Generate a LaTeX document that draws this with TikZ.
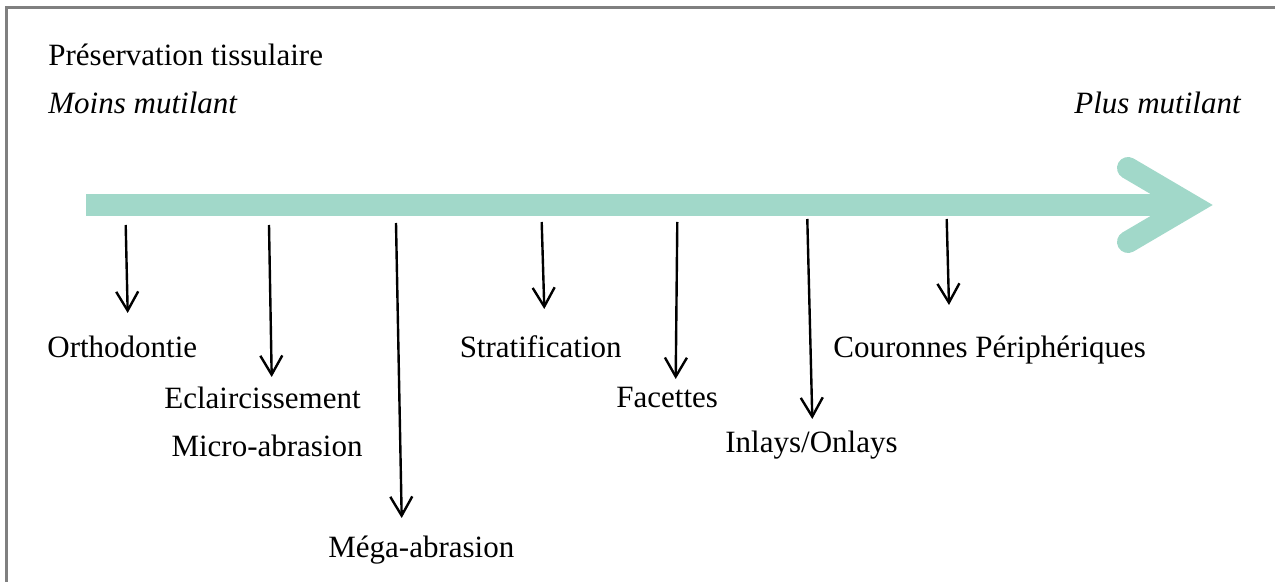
\documentclass[tikz,border=0pt]{standalone}
\usepackage{fontspec}
\setmainfont{Liberation Serif}
\usetikzlibrary{arrows.meta}
\definecolor{teal1}{RGB}{161,216,201}
\definecolor{frame}{RGB}{128,128,128}
\tikzstyle{txt} = [inner sep=0, font=\fontsize{15.5}{18}\selectfont]
\tikzstyle{itxt} = [txt, font=\fontsize{15.5}{18}\selectfont\itshape]
\tikzstyle{line} = [draw, line width=1.2pt, -{Straight Barb[length=9.5pt,width=11pt]}]
\tikzstyle{axis} = [draw=teal1, line width=11pt]

\begin{document}
\begin{tikzpicture}[x=0.5pt,y=-0.5pt]
\useasboundingbox (0,0) rectangle (1275,582);
\draw [frame, line width=1.5pt] (6,582) -- (6,8) -- (1275,8);

% titles
\node [txt, anchor=base west] (pres) at (48,66) {Préservation tissulaire};
\node [itxt, anchor=base west] (moins) at (48,114) {Moins mutilant};
\node [itxt, anchor=base east] (plus) at (1241,114) {Plus mutilant};

% main arrow
\coordinate (tail) at (86,205);
\coordinate (head) at (1191,205);
\path [axis, line cap=butt] (tail) -- (head);
\path [axis, line cap=round, line join=miter] (1128,168) -- (head) -- (1128,242);

% treatments
\node [txt, anchor=base west] (ortho) at (47,358) {Orthodontie};
\node [txt, anchor=base east] (eclair) at (361,409) {Eclaircissement};
\node [txt, anchor=base east] (micro) at (363,457) {Micro-abrasion};
\node [txt, anchor=base west] (mega) at (328,558) {Méga-abrasion};
\node [txt, anchor=base east] (strat) at (622,358) {Stratification};
\node [txt, anchor=base west] (facet) at (616,408) {Facettes};
\node [txt, anchor=base west] (inlay) at (725,453) {Inlays/Onlays};
\node [txt, anchor=base west] (cour) at (833,358) {Couronnes Périphériques};

\coordinate (s1) at (125.7,225);  \coordinate (e1) at (127.7,313);
\coordinate (s2) at (269,225);    \coordinate (e2) at (271.7,377);
\coordinate (s3) at (396,223);    \coordinate (e3) at (401.7,518);
\coordinate (s4) at (541.7,222);  \coordinate (e4) at (544.3,309);
\coordinate (s5) at (677.3,222);  \coordinate (e5) at (675.7,379);
\coordinate (s6) at (807.3,219);  \coordinate (e6) at (812.3,419);
\coordinate (s7) at (946.7,219);  \coordinate (e7) at (949,305);

\path [line] (s1) -- (e1);
\path [line] (s2) -- (e2);
\path [line] (s3) -- (e3);
\path [line] (s4) -- (e4);
\path [line] (s5) -- (e5);
\path [line] (s6) -- (e6);
\path [line] (s7) -- (e7);

\end{tikzpicture}
\end{document}
